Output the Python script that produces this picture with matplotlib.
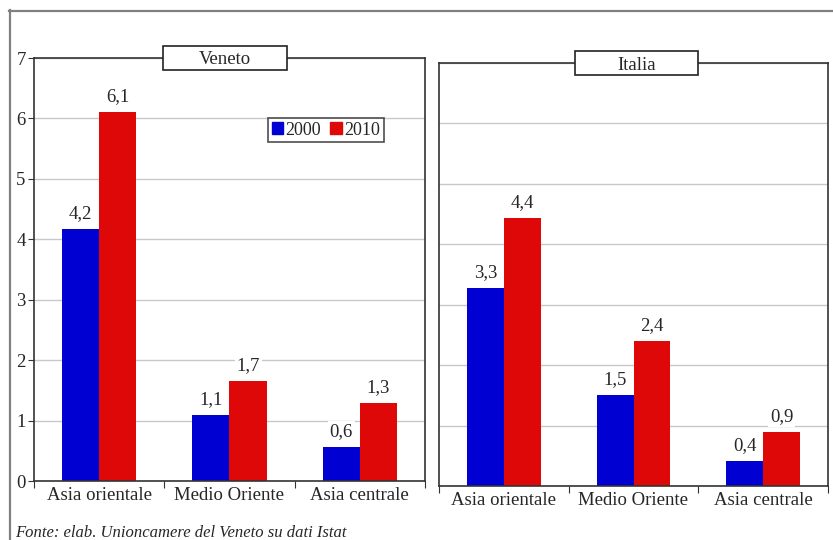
import matplotlib.pyplot as plt
from matplotlib.lines import Line2D
from matplotlib.patches import Rectangle, Patch

plt.rcParams['font.family'] = ['Liberation Serif', 'DejaVu Serif']

# dati (valori in %)
categories = ['Asia orientale', 'Medio Oriente', 'Asia centrale']
years = ['2000', '2010']
veneto_2000 = [4.17, 1.09, 0.56]
veneto_2010 = [6.1, 1.66, 1.29]
italia_2000 = [3.28, 1.51, 0.41]
italia_2010 = [4.44, 2.4, 0.89]

blue = '#0000d2'
red = '#de0808'
txt = '#262626'

fig = plt.figure(figsize=(8.33, 5.4), dpi=100)

# cornice esterna
fig.add_artist(Line2D([9 / 833, 1], [1 - 10.5 / 540] * 2, color='#808080', lw=1.6))
fig.add_artist(Line2D([9.5 / 833] * 2, [0, 1 - 10 / 540], color='#808080', lw=1.6))

ax1 = fig.add_axes([34 / 833, 59 / 540, 391 / 833, 423 / 540])
ax2 = fig.add_axes([439 / 833, 54 / 540, 389 / 833, 423 / 540])

w = 0.285
x = range(len(categories))


def draw(ax, v2000, v2010, title, tx, show_y):
    b1 = ax.bar([i - w / 2 for i in x], v2000, w, color=blue, zorder=2)
    b2 = ax.bar([i + w / 2 for i in x], v2010, w, color=red, zorder=2)
    for bars in (b1, b2):
        for b in bars:
            h = b.get_height()
            ax.annotate(f'{h:.1f}'.replace('.', ','), (b.get_x() + b.get_width() / 2, h),
                        xytext=(0, 5), textcoords='offset points', ha='center', va='bottom',
                        fontsize=13.5, color=txt, zorder=3,
                        bbox=dict(boxstyle='square,pad=0.1', fc='white', ec='none'))
    ax.set_xlim(-0.5, 2.5)
    ax.set_ylim(0, 7)
    ax.set_yticks(range(8))
    ax.yaxis.grid(True, color='#c8c8c8', lw=1, zorder=0)
    ax.set_axisbelow(True)
    ax.set_xticks([-0.5, 0.5, 1.5, 2.5])
    ax.set_xticklabels([])
    ax.set_xticks(list(x), minor=True)
    ax.set_xticklabels(categories, minor=True, fontsize=13.5, color=txt)
    ax.tick_params(axis='x', which='major', direction='out', length=5, color='#333333')
    ax.tick_params(axis='x', which='minor', length=0, pad=4)
    if show_y:
        ax.tick_params(axis='y', direction='out', length=4, pad=2, labelsize=13.5,
                       labelcolor=txt, color='#333333')
    else:
        ax.tick_params(axis='y', length=0, labelleft=False)
    for s in ax.spines.values():
        s.set_color('#333333')
        s.set_linewidth(1.2)
    ax.add_patch(Rectangle((tx - 0.159, 1 - 0.0295), 0.318, 0.059, transform=ax.transAxes,
                           fc='white', ec='#222222', lw=1.2, clip_on=False, zorder=5))
    ax.text(tx, 1.0, title, transform=ax.transAxes, ha='center', va='center_baseline',
            fontsize=13.5, color=txt, zorder=6)


draw(ax1, veneto_2000, veneto_2010, 'Veneto', 0.488, True)
draw(ax2, italia_2000, italia_2010, 'Italia', 0.508, False)

handles = [Patch(color=blue), Patch(color=red)]
leg = ax1.legend(handles, years, loc='upper left', bbox_to_anchor=(234 / 391, 1 - 60 / 423),
                 ncol=2, fontsize=13, frameon=True, fancybox=False, handlelength=0.65,
                 handleheight=0.65, handletextpad=0.12, columnspacing=0.5,
                 borderpad=0.2, borderaxespad=0)
leg.get_frame().set_edgecolor('#222222')
leg.get_frame().set_linewidth(1.2)
for t in leg.get_texts():
    t.set_color(txt)

fig.text(15 / 833, 7 / 540, 'Fonte: elab. Unioncamere del Veneto su dati Istat',
         fontsize=12, style='italic', color=txt, ha='left', va='center')

fig.savefig('out.png', dpi=100)
